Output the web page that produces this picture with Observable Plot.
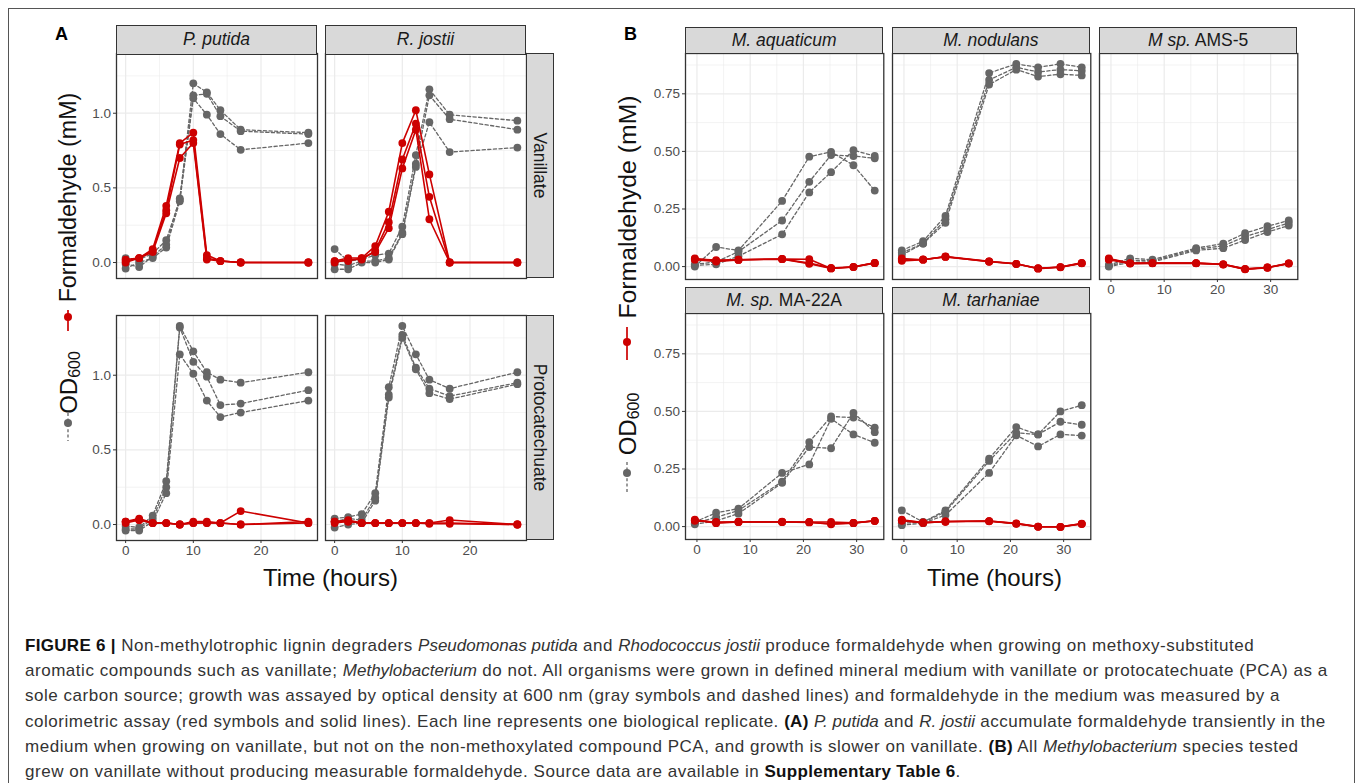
<!DOCTYPE html>
<html><head><meta charset="utf-8">
<script src="https://cdn.jsdelivr.net/npm/d3@7"></script>
<script src="https://cdn.jsdelivr.net/npm/@observablehq/plot@0.6"></script>
<style>
body{margin:0;background:#fff;font-family:"Liberation Sans",Arial,Helvetica,sans-serif;}
#root{position:relative;width:1360px;height:783px;overflow:hidden;background:#fff;}
.frame{position:absolute;left:8px;top:8px;width:1347px;height:820px;border:1.2px solid #555;box-sizing:border-box;}
.strip{position:absolute;background:#d9d9d9;border:1.3px solid #333;box-sizing:border-box;display:flex;align-items:center;justify-content:center;font-size:17.5px;color:#1a1a1a;white-space:nowrap;z-index:3;}
.strip span{display:inline-block;white-space:pre;}
.strip.v span{transform:rotate(90deg);}
.pl{position:absolute;z-index:2;}
#overlay{position:absolute;left:0;top:0;z-index:4;pointer-events:none;}
#caption{position:absolute;left:25px;top:633px;font-size:17px;letter-spacing:0.53px;line-height:25.2px;color:#333;z-index:4;}
#caption div{white-space:nowrap;}
#caption b{color:#111;letter-spacing:0.3px;}
#caption i{font-family:"Liberation Sans Narrow","Arial Narrow","Liberation Sans",sans-serif;letter-spacing:0;}
</style>
</head><body>
<div id="root">
<div class="frame"></div>
<div id="caption">
<div><b>FIGURE 6 |</b> Non-methylotrophic lignin degraders <i>Pseudomonas putida</i> and <i>Rhodococcus jostii</i> produce formaldehyde when growing on methoxy-substituted</div>
<div>aromatic compounds such as vanillate; <i>Methylobacterium</i> do not. All organisms were grown in defined mineral medium with vanillate or protocatechuate (PCA) as a</div>
<div>sole carbon source; growth was assayed by optical density at 600 nm (gray symbols and dashed lines) and formaldehyde in the medium was measured by a</div>
<div>colorimetric assay (red symbols and solid lines). Each line represents one biological replicate. <b>(A)</b> <i>P. putida</i> and <i>R. jostii</i> accumulate formaldehyde transiently in the</div>
<div>medium when growing on vanillate, but not on the non-methoxylated compound PCA, and growth is slower on vanillate. <b>(B)</b> All <i>Methylobacterium</i> species tested</div>
<div>grew on vanillate without producing measurable formaldehyde. Source data are available in <b>Supplementary Table 6</b>.</div>
</div>
</div>
<script>
// ---------- DATA ----------
const timesA = [0, 2, 4, 6, 8, 10, 12, 14, 17, 27];
const timesB = [-0.4, 3.6, 7.8, 16, 21.1, 25.2, 29.4, 33.4];

const speciesA = ["P. putida", "R. jostii"];
const substratesA = ["Vanillate", "Protocatechuate"];

// Panel A: OD600 (3 replicates) and formaldehyde (mM, 3 replicates)
const putidaVanOD = [
  [0.03, 0.02, 0.06, 0.15, 0.42, 1.20, 1.14, 1.02, 0.89, 0.87],
  [-0.01, -0.03, 0.04, 0.12, 0.43, 1.12, 1.13, 0.98, 0.88, 0.86],
  [-0.04, 0.00, 0.03, 0.10, 0.41, 1.10, 0.99, 0.86, 0.755, 0.80]];
const putidaVanHCHO = [
  [0.02, 0.03, 0.09, 0.38, 0.80, 0.87, 0.05, 0.01, 0.00, 0.00],
  [0.01, 0.03, 0.08, 0.35, 0.79, 0.82, 0.03, 0.01, 0.00, 0.00],
  [0.00, 0.03, 0.07, 0.33, 0.70, 0.80, 0.02, 0.01, 0.00, 0.00]];
const jostiiVanOD = [
  [0.09, 0.01, 0.02, 0.05, 0.06, 0.24, 0.72, 1.16, 0.99, 0.95],
  [-0.01, -0.02, 0.01, 0.01, 0.03, 0.20, 0.66, 1.12, 0.96, 0.89],
  [-0.045, -0.045, 0.00, 0.00, 0.02, 0.19, 0.64, 0.94, 0.74, 0.77]];
const jostiiVanHCHO = [
  [0.01, 0.03, 0.03, 0.11, 0.34, 0.80, 1.02, 0.59, 0.00, 0.00],
  [0.00, 0.02, 0.02, 0.08, 0.27, 0.69, 0.93, 0.44, 0.00, 0.00],
  [0.01, 0.01, 0.03, 0.07, 0.23, 0.63, 0.89, 0.29, 0.00, 0.00]];
const putidaPcaOD = [
  [-0.01, -0.02, 0.06, 0.29, 1.33, 1.16, 1.02, 0.97, 0.95, 1.02],
  [-0.03, -0.03, 0.04, 0.25, 1.32, 1.09, 0.99, 0.80, 0.81, 0.90],
  [-0.04, -0.04, 0.02, 0.21, 1.14, 1.01, 0.83, 0.72, 0.75, 0.83]];
const putidaPcaHCHO = [
  [0.02, 0.04, 0.01, 0.01, 0.00, 0.01, 0.01, 0.01, 0.09, 0.01],
  [0.01, 0.03, 0.01, 0.01, 0.00, 0.01, 0.01, 0.01, 0.00, 0.02],
  [0.02, 0.03, 0.01, 0.01, 0.00, 0.02, 0.02, 0.01, 0.00, 0.01]];
const jostiiPcaOD = [
  [0.04, 0.05, 0.07, 0.21, 0.92, 1.33, 1.14, 0.97, 0.91, 1.02],
  [0.02, 0.04, 0.03, 0.18, 0.87, 1.27, 1.05, 0.91, 0.86, 0.95],
  [-0.02, 0.00, 0.01, 0.16, 0.85, 1.25, 1.04, 0.88, 0.84, 0.94]];
const jostiiPcaHCHO = [
  [0.02, 0.03, 0.01, 0.01, 0.01, 0.01, 0.01, 0.01, 0.03, 0.00],
  [0.01, 0.02, 0.01, 0.01, 0.01, 0.01, 0.01, 0.01, 0.01, 0.00],
  [0.02, 0.02, 0.01, 0.01, 0.01, 0.01, 0.01, 0.005, 0.005, 0.00]];

// Panel B: Methylobacterium on vanillate
const speciesB = ["<i>M. aquaticum</i>", "<i>M. nodulans</i>", "<i>M sp.</i> AMS-5", "<i>M. sp.</i> MA-22A", "<i>M. tarhaniae</i>"];
const aquaticumOD = [
  [0.00, 0.085, 0.07, 0.285, 0.477, 0.498, 0.44, 0.33],
  [0.01, 0.02, 0.065, 0.20, 0.368, 0.484, 0.48, 0.47],
  [0.005, 0.01, 0.045, 0.14, 0.322, 0.41, 0.505, 0.48]];
const aquaticumHCHO = [
  [0.035, 0.025, 0.03, 0.033, 0.032, -0.008, -0.002, 0.016],
  [0.033, 0.028, 0.03, 0.033, 0.015, -0.006, -0.001, 0.016],
  [0.030, 0.022, 0.029, 0.032, 0.012, -0.008, -0.002, 0.015]];
const nodulansOD = [
  [0.07, 0.11, 0.22, 0.84, 0.88, 0.865, 0.88, 0.865],
  [0.06, 0.10, 0.205, 0.81, 0.865, 0.845, 0.855, 0.85],
  [0.05, 0.10, 0.19, 0.79, 0.855, 0.825, 0.835, 0.83]];
const nodulansHCHO = [
  [0.035, 0.03, 0.044, 0.023, 0.012, -0.008, -0.002, 0.016],
  [0.030, 0.031, 0.042, 0.022, 0.011, -0.007, -0.002, 0.015],
  [0.025, 0.030, 0.043, 0.021, 0.012, -0.009, -0.003, 0.014]];
const ams5OD = [
  [0.007, 0.036, 0.03, 0.08, 0.10, 0.145, 0.175, 0.20],
  [0.003, 0.026, 0.025, 0.075, 0.09, 0.13, 0.16, 0.19],
  [0.000, 0.018, 0.02, 0.07, 0.08, 0.115, 0.15, 0.178]];
const ams5HCHO = [
  [0.035, 0.015, 0.015, 0.015, 0.010, -0.010, -0.004, 0.014],
  [0.033, 0.014, 0.015, 0.015, 0.010, -0.011, -0.004, 0.014],
  [0.030, 0.013, 0.014, 0.014, 0.009, -0.012, -0.005, 0.013]];
const ma22aOD = [
  [0.02, 0.06, 0.078, 0.233, 0.27, 0.468, 0.40, 0.364],
  [0.015, 0.04, 0.07, 0.195, 0.367, 0.478, 0.473, 0.43],
  [0.01, 0.025, 0.056, 0.19, 0.345, 0.34, 0.494, 0.41]];
const ma22aHCHO = [
  [0.030, 0.015, 0.020, 0.021, 0.020, 0.020, 0.016, 0.025],
  [0.028, 0.018, 0.020, 0.020, 0.019, 0.010, 0.015, 0.025],
  [0.025, 0.020, 0.021, 0.020, 0.018, 0.012, 0.016, 0.024]];
const tarhaniaeOD = [
  [0.07, 0.02, 0.07, 0.295, 0.432, 0.40, 0.50, 0.527],
  [0.015, 0.018, 0.064, 0.285, 0.407, 0.40, 0.455, 0.442],
  [0.006, 0.015, 0.05, 0.233, 0.396, 0.348, 0.40, 0.395]];
const tarhaniaeHCHO = [
  [0.030, 0.018, 0.022, 0.024, 0.013, 0.000, -0.001, 0.012],
  [0.027, 0.017, 0.021, 0.023, 0.012, -0.001, -0.002, 0.011],
  [0.025, 0.016, 0.022, 0.024, 0.014, 0.000, -0.001, 0.013]];

// axis ticks
const ticksAx = [0, 10, 20], minorAx = [5, 15, 25];
const ticksAy = [0, 0.5, 1.0], minorAy = [0.25, 0.75, 1.25];
const ticksBx = [0, 10, 20, 30], minorBx = [5, 15, 25];
const ticksBy = [0, 0.25, 0.5, 0.75], minorBy = [0.125, 0.375, 0.625, 0.875];

// ---------- DRAW ----------
const RED = "#CD0000", GREY = "#666666";
const root = document.getElementById("root");

function tidy(times, reps) {
  const out = [];
  reps.forEach((r, i) => r.forEach((v, j) => out.push({t: times[j], v, rep: i})));
  return out;
}

function panel(o) {
  const ml = 45, mr = 6, mt = 6, mb = 30;
  const od = tidy(o.times, o.od), hc = tidy(o.times, o.hcho);
  const grid = {stroke: "#ebebeb", strokeOpacity: 1};
  const marks = [
    Plot.gridX(o.xMinor, {...grid, strokeWidth: 0.6}),
    Plot.gridY(o.yMinor, {...grid, strokeWidth: 0.6}),
    Plot.gridX(o.xTicks, {...grid, strokeWidth: 1.2}),
    Plot.gridY(o.yTicks, {...grid, strokeWidth: 1.2}),
    Plot.line(od, {x: "t", y: "v", z: "rep", stroke: GREY, strokeWidth: 1.3, strokeDasharray: "3.2,2.4"}),
    Plot.dot(od, {x: "t", y: "v", r: 3.9, fill: GREY}),
    Plot.line(hc, {x: "t", y: "v", z: "rep", stroke: RED, strokeWidth: 1.6}),
    Plot.dot(hc, {x: "t", y: "v", r: 3.9, fill: RED}),
    Plot.frame({stroke: "#333", strokeWidth: 1.3})
  ];
  if (o.showX) marks.push(Plot.axisX(o.xTicks, {tickSize: 3, tickPadding: 2, stroke: "#333", fill: "#4d4d4d", label: null, tickFormat: d => String(d)}));
  if (o.showY) marks.push(Plot.axisY(o.yTicks, {tickSize: 3, tickPadding: 2.5, stroke: "#333", fill: "#4d4d4d", label: null, tickFormat: o.yFmt}));
  const svg = Plot.plot({
    width: o.w + ml + mr, height: o.h + mt + mb,
    marginLeft: ml, marginRight: mr, marginTop: mt, marginBottom: mb,
    x: {domain: o.xDomain, axis: null},
    y: {domain: o.yDomain, axis: null},
    style: {background: "transparent", overflow: "visible", fontFamily: "'Liberation Sans', Arial, sans-serif", fontSize: "13.5px", color: "#4d4d4d"},
    marks
  });
  svg.classList.add("pl");
  svg.style.left = (o.left - ml) + "px";
  svg.style.top = (o.top - mt) + "px";
  svg.style.maxWidth = "none";
  root.appendChild(svg);
}

function strip(html, left, top, w, h, vertical) {
  const d = document.createElement("div");
  d.className = "strip" + (vertical ? " v" : "");
  d.style.left = left + "px"; d.style.top = top + "px";
  d.style.width = w + "px"; d.style.height = h + "px";
  d.innerHTML = "<span>" + html + "</span>";
  root.appendChild(d);
}

// Panel A layout
const colsA = [116, 325], wA = 201;
const rowsA = [53, 315], hA = 225;
const dataA = [[putidaVanOD, putidaVanHCHO, jostiiVanOD, jostiiVanHCHO], [putidaPcaOD, putidaPcaHCHO, jostiiPcaOD, jostiiPcaHCHO]];
for (let r = 0; r < 2; r++) for (let c = 0; c < 2; c++) {
  panel({left: colsA[c], top: rowsA[r], w: wA, h: hA, times: timesA,
    od: dataA[r][c * 2], hcho: dataA[r][c * 2 + 1],
    xDomain: [-1.35, 28.35], yDomain: [-0.107, 1.40],
    xTicks: ticksAx, xMinor: minorAx, yTicks: ticksAy, yMinor: minorAy,
    showX: r === 1, showY: c === 0, yFmt: d => d.toFixed(1)});
}
speciesA.forEach((s, c) => strip("<i>" + s + "</i>", colsA[c], 25, wA, 29.5));
substratesA.forEach((s, r) => strip(s, 525.5, rowsA[r], 28, hA, true));

// Panel B layout
const colsB = [685, 891.7, 1099], wB = 198.3;
const rowsB = [53.3, 313.3], hB = 226;
const dataB = [[aquaticumOD, aquaticumHCHO], [nodulansOD, nodulansHCHO], [ams5OD, ams5HCHO], [ma22aOD, ma22aHCHO], [tarhaniaeOD, tarhaniaeHCHO]];
dataB.forEach((d, i) => {
  const r = i < 3 ? 0 : 1, c = i < 3 ? i : i - 3;
  panel({left: colsB[c], top: rowsB[r], w: wB, h: hB, times: timesB,
    od: d[0], hcho: d[1],
    xDomain: [-2.15, 35.1], yDomain: [-0.056, 0.925],
    xTicks: ticksBx, xMinor: minorBx, yTicks: ticksBy, yMinor: minorBy,
    showX: r === 1 || c === 2, showY: c === 0, yFmt: d => d.toFixed(2)});
  strip(speciesB[i], colsB[c], rowsB[r] - 26.3, wB, 27.3);
});

// Titles, axis labels and legend keys
const ov = d3.select(root).append("svg").attr("id", "overlay").attr("width", 1360).attr("height", 783)
  .style("font-family", "'Liberation Sans', Arial, sans-serif");
ov.append("text").attr("x", 55).attr("y", 40).attr("font-weight", "bold").attr("font-size", 18).text("A");
ov.append("text").attr("x", 624).attr("y", 40).attr("font-weight", "bold").attr("font-size", 18).text("B");
[[330.5, 577], [994.5, 577]].forEach(([x, y]) =>
  ov.append("text").attr("x", x).attr("y", y).attr("text-anchor", "middle").attr("dominant-baseline", "central")
    .attr("font-size", 24).attr("fill", "#111").text("Time (hours)"));

function yTitle(x, yForm, fsForm, yOD, redKey, greyKey) {
  ov.append("text").attr("transform", `translate(${x},${yForm}) rotate(-90)`).attr("text-anchor", "middle")
    .attr("dominant-baseline", "central").attr("font-size", fsForm).attr("fill", "#111").text("Formaldehyde (mM)");
  const t = ov.append("text").attr("transform", `translate(${x},${yOD}) rotate(-90)`).attr("text-anchor", "middle")
    .attr("dominant-baseline", "central").attr("font-size", 24).attr("fill", "#111");
  t.append("tspan").text("OD");
  t.append("tspan").attr("font-size", 16).attr("dy", 6).text("600");
  ov.append("line").attr("x1", x).attr("x2", x).attr("y1", redKey[0]).attr("y2", redKey[1]).attr("stroke", RED).attr("stroke-width", 1.7);
  ov.append("circle").attr("cx", x).attr("cy", redKey[2]).attr("r", 4).attr("fill", RED);
  ov.append("line").attr("x1", x).attr("x2", x).attr("y1", greyKey[0]).attr("y2", greyKey[1]).attr("stroke", GREY).attr("stroke-width", 1.3).attr("stroke-dasharray", "3,2.4");
  ov.append("circle").attr("cx", x).attr("cy", greyKey[2]).attr("r", 4).attr("fill", GREY);
}
yTitle(68, 197.5, 23.3, 382.5, [310, 331, 317], [413, 441, 423]);
yTitle(627, 207, 24.8, 424, [327, 360, 342], [462, 493, 473]);
</script>
</body></html>
